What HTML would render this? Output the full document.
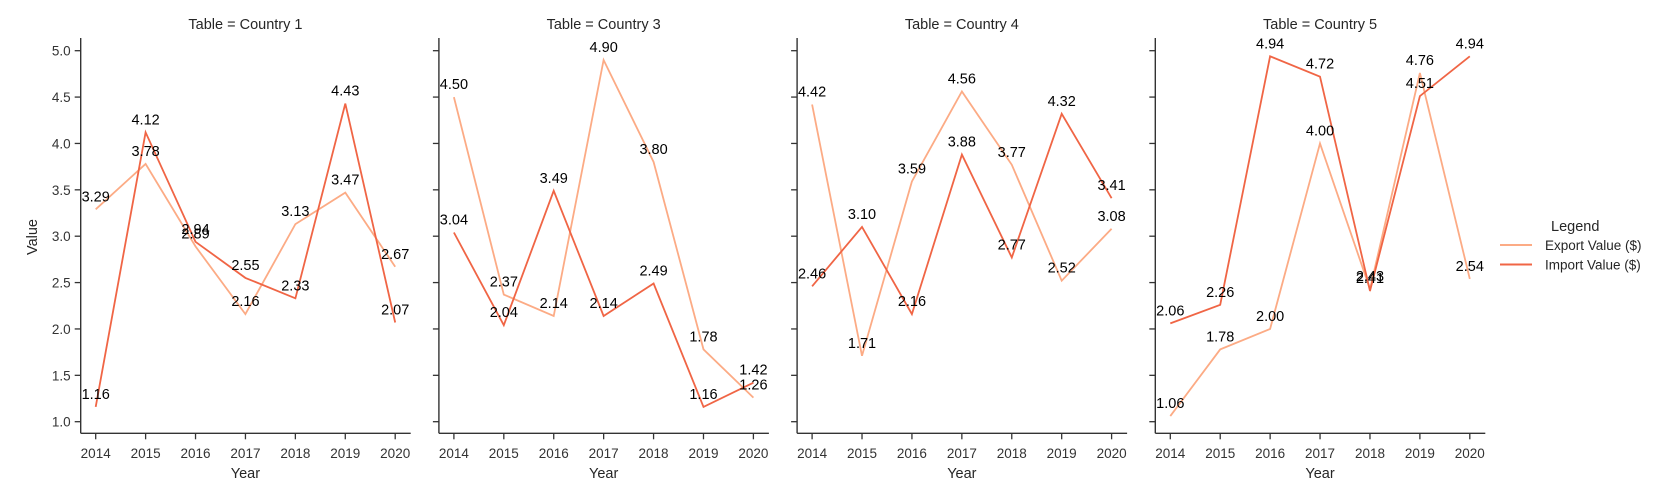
<!DOCTYPE html>
<html><head><meta charset="utf-8"><style>
html,body{margin:0;padding:0;background:#fff;}
svg{display:block;font-family:"Liberation Sans",Arial,sans-serif;}
</style></head><body>
<svg id="chart" width="1664" height="500" viewBox="0 0 1664 500" xmlns="http://www.w3.org/2000/svg"></svg>
<script>
const years = [2014, 2015, 2016, 2017, 2018, 2019, 2020];
const panelTitles = ["Table = Country 1", "Table = Country 3", "Table = Country 4", "Table = Country 5"];
const exportC1 = [3.29, 3.78, 2.89, 2.16, 3.13, 3.47, 2.67];
const importC1 = [1.16, 4.12, 2.94, 2.55, 2.33, 4.43, 2.07];
const exportC3 = [4.50, 2.37, 2.14, 4.90, 3.80, 1.78, 1.26];
const importC3 = [3.04, 2.04, 3.49, 2.14, 2.49, 1.16, 1.42];
const exportC4 = [4.42, 1.71, 3.59, 4.56, 3.77, 2.52, 3.08];
const importC4 = [2.46, 3.10, 2.16, 3.88, 2.77, 4.32, 3.41];
const exportC5 = [1.06, 1.78, 2.00, 4.00, 2.43, 4.76, 2.54];
const importC5 = [2.06, 2.26, 4.94, 4.72, 2.41, 4.51, 4.94];
const yTicks = [1.0, 1.5, 2.0, 2.5, 3.0, 3.5, 4.0, 4.5, 5.0];
const seriesNames = ["Export Value ($)", "Import Value ($)"];

const exportSeries = [exportC1, exportC3, exportC4, exportC5];
const importSeries = [importC1, importC3, importC4, importC5];
const colors = ["#fcab85", "#f06545"];
const NS = "http://www.w3.org/2000/svg";
const svg = document.getElementById("chart");
function el(tag, attrs, parent, text) {
  const e = document.createElementNS(NS, tag);
  for (const k in attrs) e.setAttribute(k, attrs[k]);
  if (text !== undefined) e.textContent = text;
  (parent || svg).appendChild(e);
  return e;
}
const axisX0 = 80.7, panelStep = 358.2, firstTickOff = 15, tickSpan = 299.5;
const yTop = 50.7, yBot = 421.7, axisBottom = 433.3, axisRightOff = 330;
function yScale(v) { return yBot - (v - 1) / 4 * (yBot - yTop); }
function xScale(p, i) { return axisX0 + p * panelStep + firstTickOff + i / (years.length - 1) * tickSpan; }

panelTitles.forEach((title, p) => {
  const g = el("g", {});
  
  
  const ax = axisX0 + p * panelStep;
  const t = el("text", {x: ax + firstTickOff + tickSpan / 2, y: 29, "text-anchor": "middle", "font-size": 14.5, fill: "#262626"}, g, title);
  
  
  const ya = el("line", {x1: ax, y1: 38, x2: ax, y2: axisBottom, stroke: "#333", "stroke-width": 1.4}, g);
  
  
  const xa = el("line", {x1: ax, y1: axisBottom, x2: ax + axisRightOff, y2: axisBottom, stroke: "#333", "stroke-width": 1.4}, g);
  
  
  yTicks.forEach(v => {
    const y = yScale(v);
    el("line", {x1: ax - 6, y1: y, x2: ax, y2: y, stroke: "#333", "stroke-width": 1.3}, g);
    if (p === 0) {
      const tl = el("text", {x: ax - 10, y: y + 5, "text-anchor": "end", "font-size": 13.5, fill: "#333"}, g, v.toFixed(1));
      
      
    }
  });
  years.forEach((yr, i) => {
    const x = xScale(p, i);
    el("line", {x1: x, y1: axisBottom, x2: x, y2: axisBottom + 6, stroke: "#333", "stroke-width": 1.3}, g);
    const tl = el("text", {x: x, y: 458, "text-anchor": "middle", "font-size": 13.5, fill: "#333"}, g, String(yr));
    
    
  });
  const xl = el("text", {x: ax + firstTickOff + tickSpan / 2, y: 478, "text-anchor": "middle", "font-size": 14.5, fill: "#262626"}, g, "Year");
  
  
  [exportSeries[p], importSeries[p]].forEach((vals, s) => {
    const pts = vals.map((v, i) => xScale(p, i).toFixed(1) + "," + yScale(v).toFixed(1)).join(" ");
    const pl = el("polyline", {points: pts, fill: "none", stroke: colors[s], "stroke-width": 1.8}, g);
    
    
  });
  [exportSeries[p], importSeries[p]].forEach((vals, s) => {
    vals.forEach((v, i) => {
      const lb = el("text", {x: xScale(p, i), y: yScale(v) - 8, "text-anchor": "middle", "font-size": 14.5, fill: "#000"}, g, v.toFixed(2));
      
      
    });
  });
});
const yl = el("text", {x: 37, y: 237, "text-anchor": "middle", "font-size": 14.5, fill: "#262626", transform: "rotate(-90 37 237)"}, svg, "Value");



const lg = el("g", {});


const lt = el("text", {x: 1551, y: 231, "font-size": 14.5, fill: "#262626"}, lg, "Legend");


seriesNames.forEach((n, s) => {
  const y = 245 + s * 19.5;
  const e = el("g", {}, lg);
  
  
  el("line", {x1: 1500, y1: y, x2: 1532, y2: y, stroke: colors[s], "stroke-width": 2}, e);
  el("text", {x: 1545, y: y + 5, "font-size": 13.5, fill: "#262626"}, e, n);
});
</script>
</body></html>
